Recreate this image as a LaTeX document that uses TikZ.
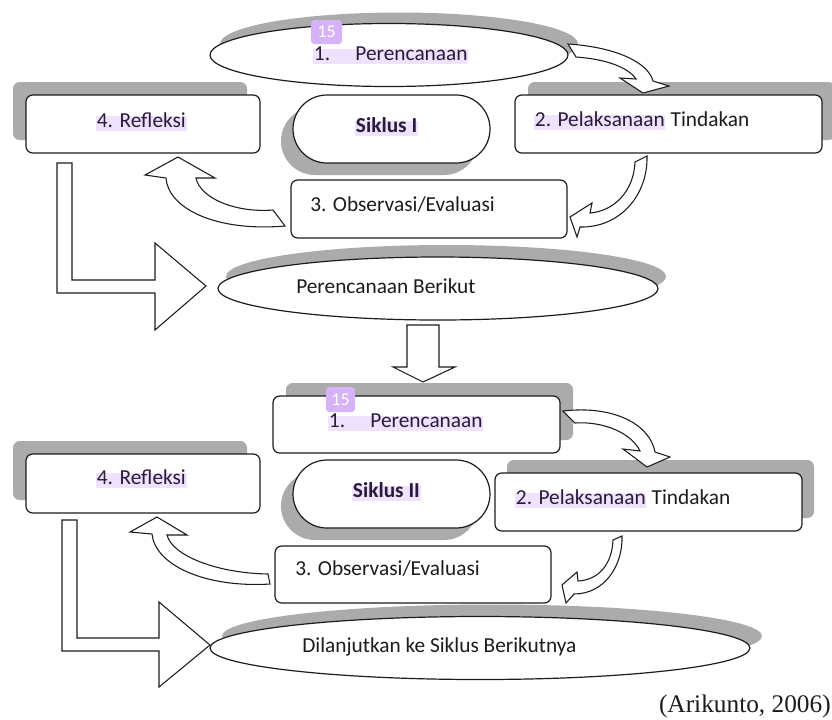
\documentclass[tikz,border=0pt]{standalone}
\usepackage{fontspec}
\setmainfont{Carlito}
\newfontfamily\timesf{Liberation Serif}
\usetikzlibrary{shapes.misc,shapes.geometric,shadows}
\definecolor{shd}{HTML}{ABABAB}
\definecolor{hl}{HTML}{EEE2FC}
\definecolor{badgec}{HTML}{D6B2F6}
\definecolor{ink}{HTML}{1C1C1C}
\definecolor{hlink}{HTML}{2A1A3C}
\tikzset{
  shp/.style={draw=ink, line width=0.9pt, fill=white, inner sep=0pt},
  rbox/.style 2 args={shp, rectangle, rounded corners=5pt, minimum width=#1*0.75pt, minimum height=#2*0.75pt},
  pill/.style 2 args={shp, rounded rectangle, minimum width=#1*0.75pt, minimum height=#2*0.75pt},
  ell/.style 2 args={shp, ellipse, minimum width=#1*0.75pt, minimum height=#2*0.75pt},
  sh/.style 2 args={general shadow={fill=shd, draw=none, shadow xshift=#1*0.75pt, shadow yshift=#2*0.75pt}},
  blk/.style={draw=ink, line width=0.8pt, fill=white, line join=miter},
  txt/.style={inner sep=0pt, anchor=base west, font=\fontsize{16}{19}\selectfont, text=ink},
  hltxt/.style={txt, fill=hl, inner xsep=0.5pt, inner ysep=0.5pt, text height=0.78em, text depth=0.25em, text=hlink},
  badge/.style 2 args={fill=badgec, rounded corners=2.5pt, inner sep=0pt, text=white,
    font=\fontsize{13.5}{15}\selectfont, minimum width=#1*0.75pt, minimum height=#2*0.75pt},
}
\begin{document}
\begin{tikzpicture}[x=0.75pt,y=-0.75pt]
\useasboundingbox (0,0) rectangle (832,719);

% ---------- Siklus I ----------
\node[ell={358}{63}, sh={10}{11}] (e1) at (389,55) {};
\node[rbox={234}{58}, sh={-13}{13}] (ref1) at (143,124) {};
\node[rbox={307}{58}, sh={13}{13}] (pel1) at (668.5,124) {};
\node[pill={197}{68}, sh={-12}{-12}] (sik1) at (391.5,129) {};
\node[rbox={276}{58}] (obs1) at (429,209) {};
\node[ell={440}{63}, sh={8}{12}] (e2) at (438,288.5) {};

\node[hltxt] (t1) at (313,60) {1.\hspace{19pt}Perencanaan};
\node[badge={31}{24}] (b1) at (326.5,32) {15};
\node[hltxt] (t4) at (96,127) {4. Refleksi};
\node[hltxt] (t2) at (534,126) {2. Pelaksanaan};
\node[txt] (t2b) at ([xshift=3.5pt]t2.base east) {Tindakan};
\node[hltxt, font=\fontsize{16}{19}\selectfont\bfseries] (ts1) at (355,132) {Siklus I};
\node[txt] (t3) at (310,211) {3. Observasi/Evaluasi};
\node[txt] (tpb) at (296,293) {Perencanaan Berikut};

% curved block arrows (cycle I)
\draw[blk] (568,44) .. controls (615,47) and (648,62) .. (653,81) -- (669,86) -- (643,93) -- (620,78)
  -- (636,79) .. controls (628,67) and (605,59) .. (576,57) -- cycle;
\draw[blk] (635,162) .. controls (634,190) and (615,211) .. (590,213) -- (592,203) -- (570,217)
  -- (577,237) -- (580,227) .. controls (620,228) and (648,195) .. (647,156) -- cycle;
\draw[blk] (285,226) .. controls (215,232) and (168,208) .. (166,178) -- (145,175) -- (178,157)
  -- (215,178) -- (196,178) .. controls (200,198) and (235,213) .. (273,210) -- cycle;
\draw[blk] (57,163) -- (72,163) -- (72,280) -- (155,280) -- (155,243) -- (206,286) -- (155,330)
  -- (155,293) -- (57,293) -- cycle;
% down arrow
\draw[blk] (407,325) -- (439,325) -- (439,367) -- (455,367) -- (423,382) -- (393,367) -- (407,367) -- cycle;

% ---------- Siklus II ----------
\node[rbox={287}{57}, sh={13}{13}] (per2) at (416.5,424.5) {};
\node[rbox={307}{58}, sh={12}{13}] (pel2) at (648.5,502) {};
\node[pill={197}{68}, sh={-12}{-12}] (sik2) at (391.5,494) {};
\node[rbox={276}{57}] (obs2) at (413,574.5) {};
\node[rbox={234}{59}, sh={-13}{13}] (ref2) at (143,483.5) {};
\node[ell={540}{63}, sh={12}{12}] (e3) at (480,648) {};

\node[hltxt] (u1) at (328,427) {1.\hspace{19pt}Perencanaan};
\node[badge={29}{25}] (b2) at (340.5,399.5) {15};
\node[hltxt] (u4) at (96,484) {4. Refleksi};
\node[hltxt] (u2) at (515,504) {2. Pelaksanaan};
\node[txt] (u2b) at ([xshift=3.5pt]u2.base east) {Tindakan};
\node[hltxt, font=\fontsize{16}{19}\selectfont\bfseries] (us2) at (352,497) {Siklus II};
\node[txt] (u3) at (295,575) {3. Observasi/Evaluasi};
\node[txt] (udl) at (302,652) {Dilanjutkan ke Siklus Berikutnya};

\draw[blk] (563,411) .. controls (615,405) and (650,425) .. (655,452) -- (670,457) -- (647,467)
  -- (623,449) -- (640,451) .. controls (632,434) and (605,421) .. (575,423) -- cycle;
\draw[blk] (613,540) .. controls (612,565) and (598,580) .. (578,581) -- (577,572) -- (562,585)
  -- (566,603) -- (574,594) .. controls (605,594) and (623,565) .. (622,536) -- cycle;
\draw[blk] (270,584) .. controls (205,588) and (155,565) .. (152,534) -- (130,532) -- (157,517)
  -- (187,535) -- (167,535) .. controls (172,555) and (215,573) .. (268,574) -- cycle;
\draw[blk] (62,520) -- (77,520) -- (77,638) -- (159,638) -- (159,602) -- (210,645) -- (159,687)
  -- (159,651) -- (62,651) -- cycle;

\node[inner sep=0pt, anchor=base east, font=\timesf\fontsize{19}{22}\selectfont, text=ink] (cap) at (831,712) {(Arikunto, 2006)};
\end{tikzpicture}
\end{document}
